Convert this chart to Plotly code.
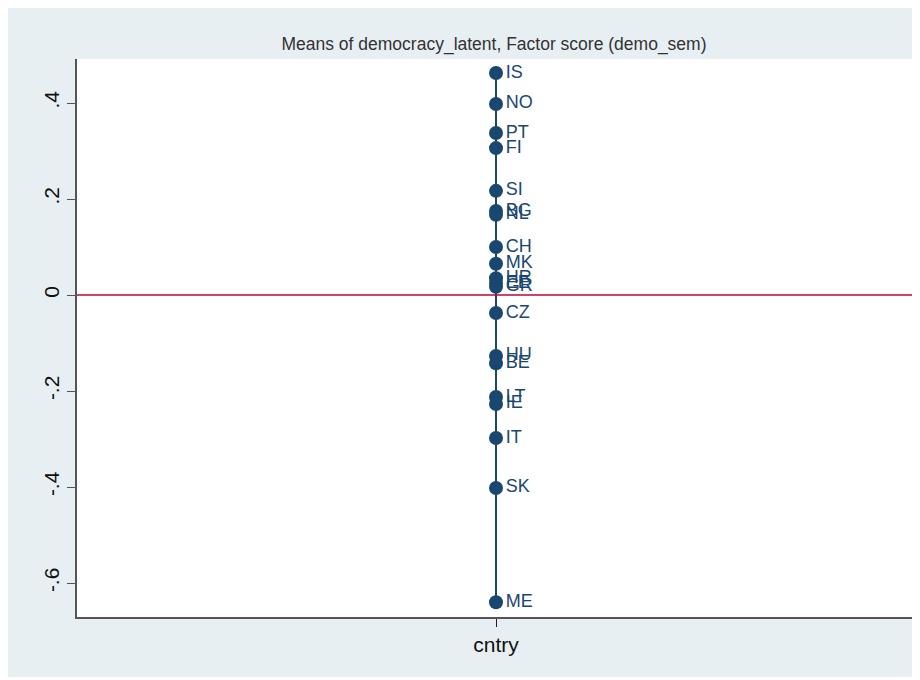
import plotly.graph_objects as go

countries = ["IS", "NO", "PT", "FI", "SI", "BG", "NL", "CH", "MK", "HR", "EE", "GR",
             "CZ", "HU", "BE", "LT", "IE", "IT", "SK", "ME"]
means = [0.4625, 0.398, 0.3375, 0.306, 0.217, 0.175, 0.167, 0.100, 0.065, 0.035, 0.025, 0.017,
         -0.0375, -0.127, -0.1425, -0.2125, -0.227, -0.298, -0.402, -0.640]
category = "cntry"
y_ticks = [0.4, 0.2, 0, -0.2, -0.4, -0.6]
y_ticklabels = [".4", ".2", "0", "-.2", "-.4", "-.6"]

navy = "#1A476F"
W, H = 912, 669
L, R, T, B = 69, 5, 51, 60
pw = W - L - R

fig = go.Figure()
fig.add_trace(go.Scatter(
    x=[category] * len(means), y=means, text=countries,
    mode="lines+markers+text", textposition="middle right",
    line=dict(color=navy, width=2),
    marker=dict(color=navy, size=14),
    textfont=dict(color=navy, size=18, family="Liberation Sans, Arial"),
    cliponaxis=False, showlegend=False,
))

fig.add_hline(y=0, line=dict(color="#C10534", width=1.5))

fig.update_layout(
    width=W, height=H,
    margin=dict(l=L, r=R, t=T, b=B),
    paper_bgcolor="#E8EFF2", plot_bgcolor="white",
    font=dict(family="Liberation Sans, Arial", color="#222222"),
    title=dict(text="Means of democracy_latent, Factor score (demo_sem)",
               x=(486 - L) / pw, xref="paper", xanchor="center",
               y=1 - 36 / H, yanchor="middle",
               font=dict(size=17.5, color="#333333")),
    xaxis=dict(type="category", showgrid=False, zeroline=False,
               showline=True, linecolor="#555555", linewidth=2,
               ticks="outside", ticklen=8, tickcolor="#222222", tickwidth=1,
               tickfont=dict(size=21, color="#111111"), range=[-1, 1]),
    yaxis=dict(range=[(295 - 617) / 480, (295 - 59) / 480],
               tickvals=y_ticks, ticktext=y_ticklabels, tickangle=-90,
               showgrid=False, zeroline=False,
               showline=True, linecolor="#555555", linewidth=2,
               ticks="outside", ticklen=8, tickcolor="#555555", tickwidth=1,
               tickfont=dict(size=21, color="#111111")),
)

fig.write_html("out.html")
